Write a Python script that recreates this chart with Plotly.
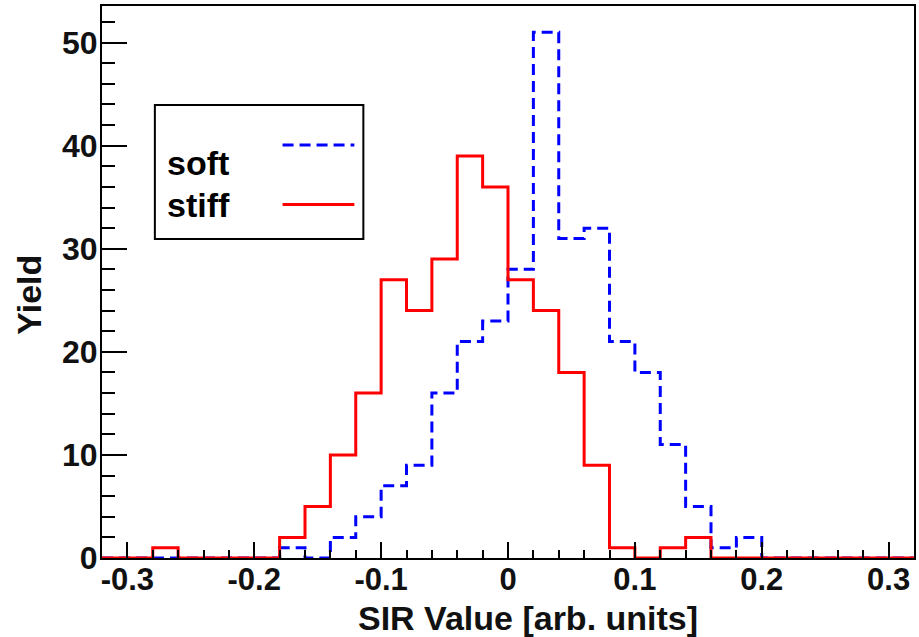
import plotly.graph_objects as go

# ---- data ----
bin_low_edges = [-0.32, -0.30, -0.28, -0.26, -0.24, -0.22, -0.20, -0.18,
                 -0.16, -0.14, -0.12, -0.10, -0.08, -0.06, -0.04, -0.02,
                 0.00, 0.02, 0.04, 0.06, 0.08, 0.10, 0.12, 0.14,
                 0.16, 0.18, 0.20, 0.22, 0.24, 0.26, 0.28, 0.30]
bin_width = 0.02
soft_counts = [0, 0, 0, 0, 0, 0, 0, 1,
               0, 2, 4, 7, 9, 16, 21, 23,
               28, 51, 31, 32, 21, 18, 11, 5,
               1, 2, 0, 0, 0, 0, 0, 0]
stiff_counts = [0, 0, 1, 0, 0, 0, 0, 2,
                5, 10, 16, 27, 24, 29, 39, 36,
                27, 24, 18, 9, 1, 0, 1, 2,
                0, 0, 0, 0, 0, 0, 0, 0]
x_tick_vals = [-0.3, -0.2, -0.1, 0, 0.1, 0.2, 0.3]
x_tick_text = ["-0.3", "-0.2", "-0.1", "0", "0.1", "0.2", "0.3"]
y_tick_vals = [0, 10, 20, 30, 40, 50]
y_tick_text = ["0", "10", "20", "30", "40", "50"]
series_names = ["soft", "stiff"]
x_title = "SIR Value [arb. units]"
y_title = "Yield"

# step outline built from bin edges
edges = bin_low_edges + [bin_low_edges[-1] + bin_width]


def step(counts):
    return edges, counts + [counts[-1]]


FONT = "Liberation Sans, Arial, Helvetica, sans-serif"

fig = go.Figure()
sx, sy = step(soft_counts)
fig.add_trace(go.Scatter(x=sx, y=sy, mode="lines", line_shape="hv",
                         line=dict(color="#0000ff", width=3, dash="11px,6px"),
                         name=series_names[0], showlegend=False))
tx, ty = step(stiff_counts)
fig.add_trace(go.Scatter(x=tx, y=ty, mode="lines", line_shape="hv",
                         line=dict(color="#ff0000", width=3),
                         name=series_names[1], showlegend=False))

W, H = 919, 637
L, R, T, B = 102, 3, 6, 79
pw, ph = W - L - R, H - T - B


def px(x):
    return (x - L) / pw


def py(y):
    return (H - B - y) / ph


fig.update_layout(
    width=W, height=H,
    margin=dict(l=L, r=R, t=T, b=B, pad=0),
    paper_bgcolor="white", plot_bgcolor="white",
    font=dict(family=FONT, size=31, color="#111111", weight="bold"),
    showlegend=False,
)
fig.update_xaxes(
    range=[-0.32, 0.32], showgrid=False, zeroline=False,
    showline=True, linecolor="black", linewidth=2, mirror=True,
    ticks="inside", ticklen=16, tickwidth=2, tickcolor="black",
    tickvals=x_tick_vals, ticktext=x_tick_text,
    minor=dict(dtick=0.02, tick0=0, ticks="inside", ticklen=8, tickwidth=2, tickcolor="black"),
    tickfont=dict(family=FONT, size=31, weight="bold"),
    ticklabelstandoff=-7,
)
fig.update_yaxes(
    range=[0, 53.55], showgrid=False, zeroline=False,
    showline=True, linecolor="black", linewidth=2, mirror=True,
    ticks="inside", ticklen=25, tickwidth=2, tickcolor="black",
    tickvals=y_tick_vals, ticktext=y_tick_text,
    minor=dict(dtick=2, tick0=0, ticks="inside", ticklen=13, tickwidth=2, tickcolor="black"),
    tickfont=dict(family=FONT, size=32, weight="bold"),
    ticklabelstandoff=-4,
)

# axis titles
fig.add_annotation(text=x_title, xref="paper", yref="paper", x=px(529), y=py(618),
                   xanchor="center", yanchor="middle", showarrow=False,
                   font=dict(family=FONT, size=34, weight="bold", color="#111111"))
fig.add_annotation(text=y_title, xref="paper", yref="paper", x=px(28.5), y=py(295),
                   xanchor="center", yanchor="middle", showarrow=False, textangle=-90,
                   font=dict(family=FONT, size=34, weight="bold", color="#111111"))

# legend box (ROOT style: label left, line sample right)
fig.add_shape(type="rect", xref="paper", yref="paper",
              x0=px(155), x1=px(364), y0=py(239), y1=py(105),
              line=dict(color="black", width=2), fillcolor="white", layer="above")
fig.add_shape(type="line", xref="paper", yref="paper",
              x0=px(283), x1=px(355), y0=py(145), y1=py(145),
              line=dict(color="#0000ff", width=3, dash="11px,6px"), layer="above")
fig.add_shape(type="line", xref="paper", yref="paper",
              x0=px(283), x1=px(355), y0=py(204.5), y1=py(204.5),
              line=dict(color="#ff0000", width=3), layer="above")
fig.add_annotation(text=series_names[0], xref="paper", yref="paper", x=px(165), y=py(163),
                   xanchor="left", yanchor="middle", showarrow=False,
                   font=dict(family=FONT, size=34, weight="bold", color="black"))
fig.add_annotation(text=series_names[1], xref="paper", yref="paper", x=px(165), y=py(205),
                   xanchor="left", yanchor="middle", showarrow=False,
                   font=dict(family=FONT, size=34, weight="bold", color="black"))

fig.write_html("out.html",
               config={"displayModeBar": False},
               post_script="document.body.style.margin='0';document.body.style.overflow='hidden';")
